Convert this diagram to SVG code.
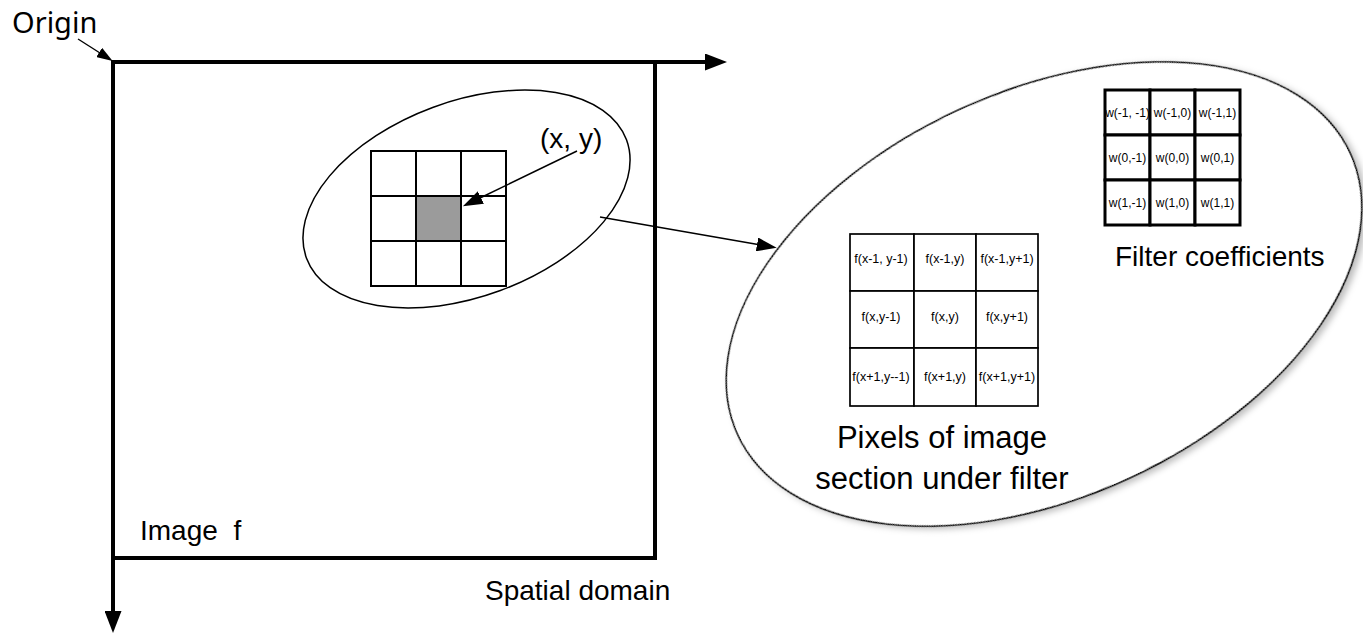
<svg xmlns="http://www.w3.org/2000/svg" width="1363" height="634" viewBox="0 0 1363 634">
<defs>
<style>
.lbl{font-family:"Liberation Sans",Arial,sans-serif;font-size:28px;fill:#000}
.cell{font-family:"Liberation Sans",Arial,sans-serif;text-anchor:middle;dominant-baseline:central;fill:#000}
.fc{font-size:12.5px}
.wc{font-size:12px}
.thin{fill:none;stroke:#000;stroke-width:1.5}
.sg{fill:#fff;stroke:#000;stroke-width:2}
.pg{fill:#fff;stroke:#000;stroke-width:1.7}
.wg{fill:#fff;stroke:#000;stroke-width:3}
.axis{fill:none;stroke:#000;stroke-width:4}
</style>
<marker id="axhead" markerUnits="userSpaceOnUse" markerWidth="22" markerHeight="17" refX="1" refY="8.5" orient="auto"><path d="M0,0 L22,8.5 L0,17 Z" fill="#000"/></marker>
<marker id="arr" markerUnits="userSpaceOnUse" markerWidth="20" markerHeight="14" refX="1" refY="7" orient="auto"><path d="M0,0 L20,7 L0,14 Z" fill="#000"/></marker>
<marker id="arrs" markerUnits="userSpaceOnUse" markerWidth="16" markerHeight="11" refX="1" refY="5.5" orient="auto"><path d="M0,0 L16,5.5 L0,11 Z" fill="#000"/></marker>
<filter id="shadow" x="-10%" y="-10%" width="125%" height="130%"><feDropShadow dx="3" dy="4" stdDeviation="3" flood-color="#000" flood-opacity="0.25"/></filter>
</defs>

<g id="image-frame">
<rect x="113" y="62" width="542" height="496" class="axis"/>
</g>

<g id="axes">
<line x1="111" y1="62" x2="706" y2="62" class="axis" marker-end="url(#axhead)"/>
<line x1="113" y1="60" x2="113" y2="612" class="axis" marker-end="url(#axhead)"/>
</g>

<g id="origin-label">
<text x="12" y="33" style="font-family:'Noto Sans','Liberation Sans',sans-serif;font-size:29px">Origin</text>
</g>

<g id="small-ellipse">
<ellipse cx="466.5" cy="199" rx="170.6" ry="97.6" transform="rotate(-20.3 466.5 199)" class="thin"/>
</g>

<g id="neighborhood-grid">
<rect x="371" y="151" width="45" height="45" class="sg"/>
<rect x="416" y="151" width="45" height="45" class="sg"/>
<rect x="461" y="151" width="45" height="45" class="sg"/>
<rect x="371" y="196" width="45" height="45" class="sg"/>
<rect x="416" y="196" width="45" height="45" class="sg" style="fill:#9b9b9b"/>
<rect x="461" y="196" width="45" height="45" class="sg"/>
<rect x="371" y="241" width="45" height="45" class="sg"/>
<rect x="416" y="241" width="45" height="45" class="sg"/>
<rect x="461" y="241" width="45" height="45" class="sg"/>
</g>

<g id="xy-label">
<text x="540" y="148" class="lbl">(x, y)</text>
</g>

<g id="big-ellipse">
<ellipse cx="1044" cy="294" rx="337" ry="203" transform="rotate(-24.7 1044 294)" fill="#fff" stroke="#000" stroke-width="1.5" filter="url(#shadow)"/>
</g>

<g id="filter-coefficients">
<rect x="1105" y="90" width="45" height="45" class="wg"/>
<rect x="1150" y="90" width="45" height="45" class="wg"/>
<rect x="1195" y="90" width="45" height="45" class="wg"/>
<rect x="1105" y="135" width="45" height="45" class="wg"/>
<rect x="1150" y="135" width="45" height="45" class="wg"/>
<rect x="1195" y="135" width="45" height="45" class="wg"/>
<rect x="1105" y="180" width="45" height="45" class="wg"/>
<rect x="1150" y="180" width="45" height="45" class="wg"/>
<rect x="1195" y="180" width="45" height="45" class="wg"/>
<text x="1127.5" y="113" class="cell wc">w(-1, -1)</text>
<text x="1172.5" y="113" class="cell wc">w(-1,0)</text>
<text x="1217.5" y="113" class="cell wc">w(-1,1)</text>
<text x="1127.5" y="158" class="cell wc">w(0,-1)</text>
<text x="1172.5" y="158" class="cell wc">w(0,0)</text>
<text x="1217.5" y="158" class="cell wc">w(0,1)</text>
<text x="1127.5" y="203" class="cell wc">w(1,-1)</text>
<text x="1172.5" y="203" class="cell wc">w(1,0)</text>
<text x="1217.5" y="203" class="cell wc">w(1,1)</text>
<text x="1115" y="266" class="lbl">Filter coefficients</text>
</g>

<g id="image-section">
<rect x="850" y="234" width="64" height="57" class="pg"/>
<rect x="914" y="234" width="62" height="57" class="pg"/>
<rect x="976" y="234" width="62" height="57" class="pg"/>
<rect x="850" y="291" width="64" height="57" class="pg"/>
<rect x="914" y="291" width="62" height="57" class="pg"/>
<rect x="976" y="291" width="62" height="57" class="pg"/>
<rect x="850" y="348" width="64" height="58" class="pg"/>
<rect x="914" y="348" width="62" height="58" class="pg"/>
<rect x="976" y="348" width="62" height="58" class="pg"/>
<text x="881" y="259" class="cell fc">f(x-1, y-1)</text>
<text x="945" y="259" class="cell fc">f(x-1,y)</text>
<text x="1007" y="259" class="cell fc">f(x-1,y+1)</text>
<text x="881" y="317" class="cell fc">f(x,y-1)</text>
<text x="945" y="317" class="cell fc">f(x,y)</text>
<text x="1007" y="317" class="cell fc">f(x,y+1)</text>
<text x="881" y="377" class="cell fc">f(x+1,y--1)</text>
<text x="945" y="377" class="cell fc">f(x+1,y)</text>
<text x="1007" y="377" class="cell fc">f(x+1,y+1)</text>
<text x="942" y="448" class="lbl" text-anchor="middle" style="font-size:31px">Pixels of image</text>
<text x="942" y="489" class="lbl" text-anchor="middle" style="font-size:31px">section under filter</text>
</g>

<g id="image-label">
<text x="140" y="540" class="lbl" xml:space="preserve">Image  f</text>
</g>

<g id="domain-label">
<text x="485" y="600" class="lbl">Spatial domain</text>
</g>

<g id="connectors">
<line x1="78" y1="39" x2="100" y2="53" stroke="#000" stroke-width="1.4" marker-end="url(#arrs)"/>
<line x1="577" y1="151" x2="480" y2="198" stroke="#000" stroke-width="1.5" marker-end="url(#arr)"/>
<line x1="600" y1="217" x2="758" y2="244.6" stroke="#000" stroke-width="1.5" marker-end="url(#arr)"/>
</g>
</svg>
